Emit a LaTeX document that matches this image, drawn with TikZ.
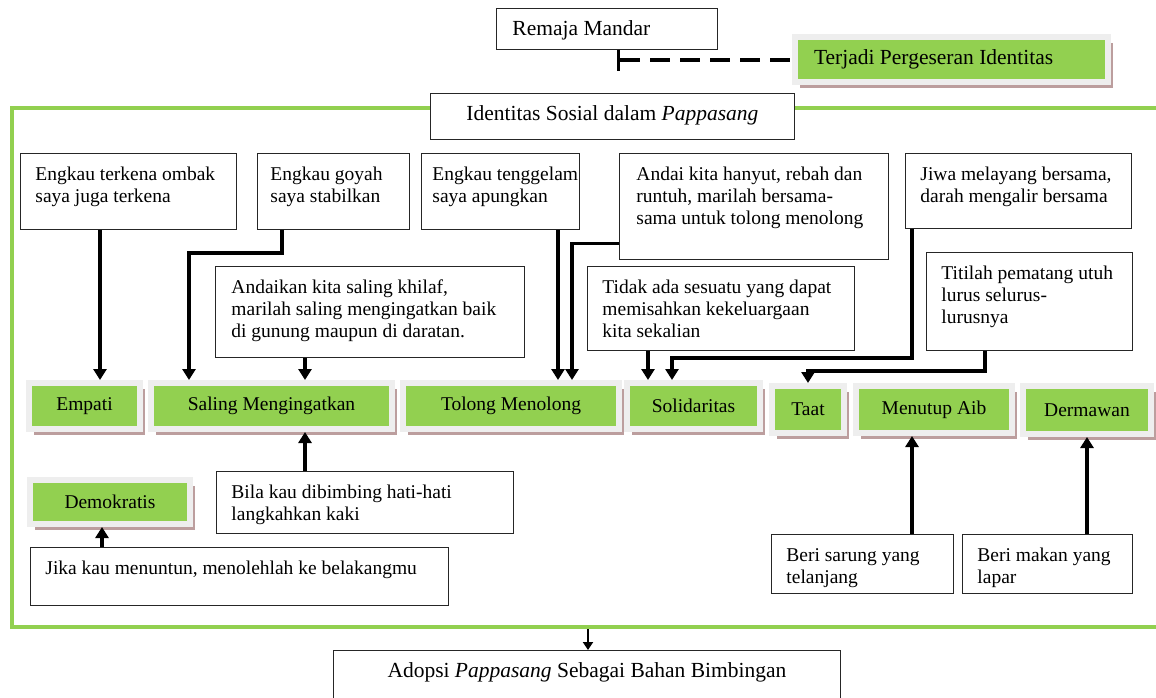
\documentclass[tikz,border=0pt]{standalone}
\usepackage{fontspec}
\setmainfont{Liberation Serif}
\usetikzlibrary{arrows.meta,shadows}

\definecolor{leaf}{RGB}{146,208,80}
\definecolor{rimgray}{RGB}{238,238,238}
\definecolor{rosy}{RGB}{188,158,158}

\newcommand{\boxtext}[4][\raggedright\leftskip=15pt]{%
  \parbox[c][#3][t]{#2}{#1\rightskip=0pt plus 1fil minus 20pt\rule{0pt}{27pt}#4}}

\tikzset{
  txtbox/.style={draw=black!85, line width=0.9pt, fill=white, inner sep=0pt,
    anchor=north west, font=\fontsize{19.5}{22}\selectfont},
  headfont/.style={font=\fontsize{21.5}{24}\selectfont},
  lbl/.style={fill=leaf, draw=rimgray, line width=6pt, inner sep=0pt, anchor=north west,
    font=\fontsize{19.5}{22}\selectfont,
    general shadow={fill=rosy, shadow xshift=5pt, shadow yshift=-6pt}},
  arr/.style={line width=3.5pt, line join=miter, -{Triangle[width=13pt,length=11pt]}},
}

\begin{document}
\begin{tikzpicture}[x=1pt,y=-1pt]
  \useasboundingbox (0,0) rectangle (1156,697);

  % green frame round the social identity part
  \draw[leaf, line width=4pt, line join=miter] (1170,108) -- (12,108) -- (12,627) -- (1170,627);

  \node[txtbox, headfont] (remaja) at (496,8) {\boxtext[\raggedright\leftskip=16pt]{221pt}{41pt}{Remaja Mandar}};
  \node[lbl, headfont, minimum width=313, minimum height=45] (terjadi) at (792,34)
    {\parbox{275pt}{Terjadi Pergeseran Identitas}};
  \node[txtbox, headfont] (identitas) at (430,93) {\boxtext[\centering]{364pt}{46pt}{Identitas Sosial dalam \textit{Pappasang}}};
  \node[txtbox, headfont] (adopsi) at (333,650) {\boxtext[\centering]{507pt}{60pt}{Adopsi \textit{Pappasang} Sebagai Bahan Bimbingan}};

  \node[txtbox] (b1) at (20,153) {\boxtext{216pt}{76pt}{Engkau terkena ombak\\saya juga terkena}};
  \node[txtbox] (b2) at (257,153) {\boxtext[\raggedright\leftskip=13pt]{152pt}{76pt}{Engkau goyah\\saya stabilkan}};
  \node[txtbox] (b3) at (421,153) {\boxtext[\raggedright\leftskip=11pt]{158pt}{76pt}{Engkau tenggelam\\saya apungkan}};
  \node[txtbox] (b4) at (619,153) {\boxtext[\raggedright\leftskip=17pt]{269pt}{106pt}{Andai kita hanyut, rebah dan\\runtuh, marilah bersama-\\sama untuk tolong menolong}};
  \node[txtbox] (b5) at (905,153) {\boxtext{226pt}{75pt}{Jiwa melayang bersama,\\darah mengalir bersama}};
  \node[txtbox] (b6) at (215,266) {\boxtext[\raggedright\leftskip=16pt]{309pt}{91pt}{Andaikan kita saling khilaf,\\marilah saling mengingatkan baik\\di gunung maupun di daratan.}};
  \node[txtbox] (b7) at (587,266) {\boxtext{267pt}{84pt}{Tidak ada sesuatu yang dapat\\memisahkan kekeluargaan\\kita sekalian}};
  \node[txtbox] (b8) at (926,252) {\boxtext{206pt}{98pt}{Titilah pematang utuh\\lurus selurus-\\lurusnya}};
  \node[txtbox] (bila) at (216,471) {\boxtext{297pt}{62pt}{Bila kau dibimbing hati-hati\\langkahkan kaki}};
  \node[txtbox] (jika) at (30,547) {\boxtext{418pt}{58pt}{Jika kau menuntun, menolehlah ke belakangmu}};
  \node[txtbox] (sarung) at (771,534) {\boxtext{182pt}{59pt}{Beri sarung yang\\telanjang}};
  \node[txtbox] (makan) at (962,534) {\boxtext{170pt}{59pt}{Beri makan yang\\lapar}};

  \foreach \nm/\x/\y/\w/\h/\txt in {empati/26/380/111/46/Empati,
      saling/148/380/241/46/Saling Mengingatkan,
      tolong/400/380/216/46/Tolong Menolong,
      solid/624/380/133/46/Solidaritas,
      taat/769/383/72/47/Taat,
      menutup/853/383/156/47/Menutup Aib,
      dermawan/1020/383/128/48/Dermawan,
      demok/27/477/160/44/Demokratis} {
    \node[lbl, minimum width=\w, minimum height=\h] (\nm) at (\x,\y) {\txt};
  }

  % link to the identity shift
  \coordinate (stem) at ([xshift=122pt]remaja.south west);
  \draw[line width=3pt] (stem) -- ++(0,21);
  \draw[line width=4pt, dash pattern=on 20pt off 10pt] ([xshift=2pt]stem |- terjadi.west) -- (terjadi.west);

  % pappasang to values
  \draw[arr] ([xshift=80pt]b1.south west) -- ([xshift=80pt]b1.south west |- empati.north);
  \draw[arr] ([xshift=25pt]b2.south west) -- ++(0,23) -| ([xshift=41pt]saling.north west);
  \draw[arr] ([xshift=90pt]b6.south west) -- ([xshift=90pt]b6.south west |- saling.north);
  \draw[arr] ([xshift=89pt]bila.north west) -- ([xshift=89pt]bila.north west |- saling.south);
  \draw[arr] ([xshift=137pt]b3.south west) -- ([xshift=137pt]b3.south west |- tolong.north);
  \draw[arr] ([yshift=-37pt]b4.west) -| ([xshift=172pt]tolong.north west);
  \draw[arr] ([xshift=61pt]b7.south west) -- ([xshift=61pt]b7.south west |- solid.north);
  \draw[arr] ([xshift=7pt]b5.south west) -- ++(0,129) -| ([xshift=48pt]solid.north west);
  \draw[arr] ([xshift=59pt]b8.south west) -- ++(0,20) -| (taat.north);
  \draw[arr] ([xshift=141pt]sarung.north west) -- ([xshift=141pt]sarung.north west |- menutup.south);
  \draw[arr] (makan.north -| dermawan.south) -- (dermawan.south);
  \draw[arr] ([xshift=72pt]jika.north west) -- ([xshift=72pt]jika.north west |- demok.south);

  \coordinate (framebot) at (588,629);
  \draw[line width=2.5pt, -{Triangle[width=10pt,length=8pt]}] (framebot) -- (framebot |- adopsi.north);
\end{tikzpicture}
\end{document}
